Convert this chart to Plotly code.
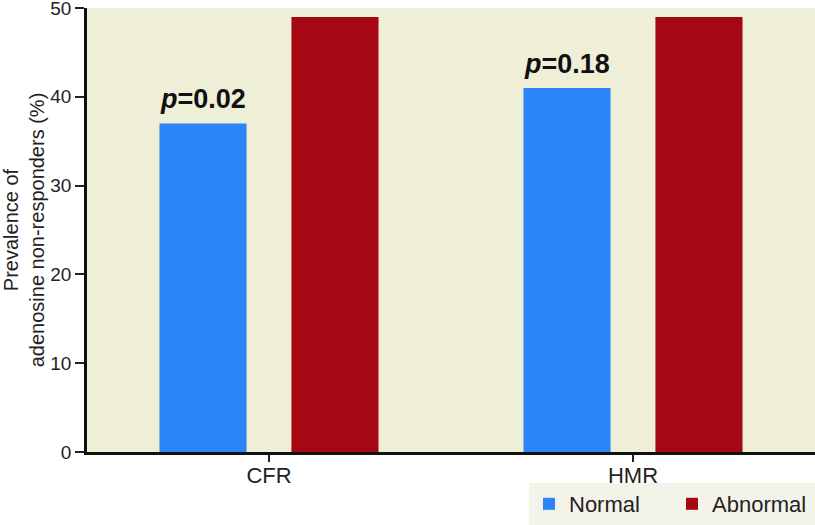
import plotly.graph_objects as go

categories = ["CFR", "HMR"]
normal_vals = [37, 41]
abnormal_vals = [49, 49]
p_labels = ["<i>p</i>=0.02", "<i>p</i>=0.18"]
y_ticks = [0, 10, 20, 30, 40, 50]

base = "Liberation Sans, Arial, sans-serif"

fig = go.Figure()
fig.add_trace(go.Bar(name="Normal", x=categories, y=normal_vals, marker_color="#2C85F7",
                     marker_line_width=0))
fig.add_trace(go.Bar(name="Abnormal", x=categories, y=abnormal_vals, marker_color="#A50713",
                     marker_line_width=0))

for i, cat in enumerate(categories):
    fig.add_annotation(x=cat, y=normal_vals[i], text="<b>" + p_labels[i] + "</b>",
                       xshift=-66, yshift=7, yanchor="bottom", showarrow=False,
                       font=dict(family=base, size=27, color="#111111"))

fig.update_layout(
    width=815, height=525,
    margin=dict(l=87, r=0, t=8, b=73, autoexpand=False),
    paper_bgcolor="white",
    plot_bgcolor="#EFEFD8",
    barmode="group", bargap=0.275, bargroupgap=0.34,
    showlegend=True,
    legend=dict(orientation="h", xref="container", yref="container",
                x=1, xanchor="right", y=0, yanchor="bottom",
                bgcolor="#F4F3EA", font=dict(family=base, size=22, color="#222"),
                itemwidth=30, entrywidth=98, traceorder="normal", borderwidth=0),
    font=dict(family=base, color="#222"),
)
fig.update_yaxes(range=[0, 50], tickvals=y_ticks, ticks="outside", ticklen=9, tickwidth=1.5,
                 tickcolor="#222", showline=True, linecolor="#111", linewidth=2.5,
                 showgrid=False, zeroline=False, automargin=False, ticklabeloverflow="allow",
                 tickfont=dict(family=base, size=19, color="#222"),
                 title=dict(text="Prevalence of<br>adenosine non-responders (%)",
                            font=dict(size=20, color="#222"), standoff=8))
fig.update_xaxes(ticks="outside", ticklen=7, tickwidth=1.5, tickcolor="#222",
                 showline=True, linecolor="#111", linewidth=2.5, showgrid=False,
                 automargin=False, ticklabelstandoff=-5, tickfont=dict(size=22, color="#222"))

fig.write_html("out.html", config={"displayModeBar": False},
               post_script="document.body.style.margin='0px';")
